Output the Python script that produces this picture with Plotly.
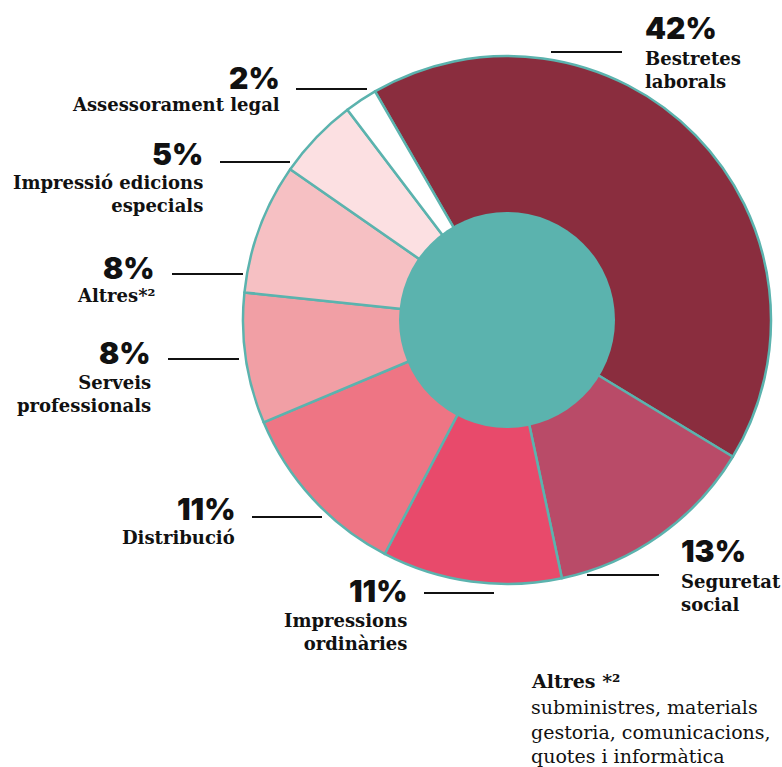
import plotly.graph_objects as go

W, H = 782, 767

labels = ["Bestretes laborals", "Seguretat social", "Impressions ordinàries", "Distribució",
          "Serveis professionals", "Altres*²", "Impressió edicions especials", "Assessorament legal"]
values = [42, 13, 11, 11, 8, 8, 5, 2]
colors = ["#8A2D3E", "#B94B68", "#E84A6B", "#EE7584", "#F19FA5", "#F6C0C3", "#FCE0E2", "#FFFFFF"]
pct_text = ["42%", "13%", "11%", "11%", "8%", "8%", "5%", "2%"]
label_lines = ["Bestretes<br>laborals", "Seguretat<br>social", "Impressions<br>ordinàries", "Distribució",
               "Serveis<br>professionals", "Altres*²", "Impressió edicions<br>especials", "Assessorament legal"]

TEAL = "#5BB3AE"

# layout positions (pixels): anchor side, text x, pct y, label top y, line x0, x1, line y
pos = [
    ("left", 643, 28, 46, 551, 622, 52),
    ("left", 679, 551, 569, 587, 659, 575),
    ("right", 409, 591, 608, 424, 494, 593),
    ("right", 237, 509, 525, 252, 322, 517),
    ("right", 153, 353, 370, 168, 239, 359),
    ("right", 157, 268, 283, 172, 243, 274),
    ("right", 205, 154, 170, 220, 290, 162),
    ("right", 282, 78, 92, 296, 367, 89),
]

cx, cy, R, r_hole = 507, 320, 264, 108


def px(x):
    return x / W


def py(y):
    return 1 - y / H


fig = go.Figure()
fig.add_trace(go.Pie(
    labels=labels, values=values, sort=False, direction="clockwise", rotation=-30,
    marker=dict(colors=colors, line=dict(color=TEAL, width=2.5)),
    textinfo="none", hoverinfo="label+percent", showlegend=False,
    domain=dict(x=[px(cx - R), px(cx + R)], y=[py(cy + R), py(cy - R)]),
))
fig.add_trace(go.Pie(
    labels=["centre"], values=[1], marker=dict(colors=[TEAL], line=dict(width=0)),
    textinfo="none", hoverinfo="skip", showlegend=False,
    domain=dict(x=[px(cx - r_hole), px(cx + r_hole)], y=[py(cy + r_hole), py(cy - r_hole)]),
))

annotations = []
shapes = []
pct_font = dict(family="Inter", size=30, color="#111111", weight=900)
lab_font = dict(family="DejaVu Serif", size=18, color="#111111", weight="bold")
for (side, tx, pyv, ly, x0, x1, lyy), pt, lt in zip(pos, pct_text, label_lines):
    annotations.append(dict(x=px(tx), y=py(pyv), xref="paper", yref="paper", text=pt,
                            showarrow=False, xanchor=side, yanchor="middle", font=pct_font,
                            align=side))
    annotations.append(dict(x=px(tx), y=py(ly), xref="paper", yref="paper", text=lt,
                            showarrow=False, xanchor=side, yanchor="top", font=lab_font,
                            align=side))
    shapes.append(dict(type="line", xref="paper", yref="paper", x0=px(x0), x1=px(x1),
                       y0=py(lyy), y1=py(lyy), line=dict(color="#111111", width=2)))

annotations.append(dict(x=px(529), y=py(668), xref="paper", yref="paper", text="<b>Altres *²</b>",
                        showarrow=False, xanchor="left", yanchor="top",
                        font=dict(family="DejaVu Serif", size=19, color="#111111")))
annotations.append(dict(x=px(529), y=py(694), xref="paper", yref="paper",
                        text="subministres, materials<br>gestoria, comunicacions,<br>quotes i informàtica",
                        showarrow=False, xanchor="left", yanchor="top", align="left",
                        font=dict(family="DejaVu Serif", size=19, color="#111111")))

fig.update_layout(width=W, height=H, margin=dict(l=0, r=0, t=0, b=0),
                  paper_bgcolor="white", plot_bgcolor="white",
                  annotations=annotations, shapes=shapes)
fig.write_html("out.html", config={"displayModeBar": False},
               post_script="document.body.style.margin='0';document.body.style.overflow='hidden';")
